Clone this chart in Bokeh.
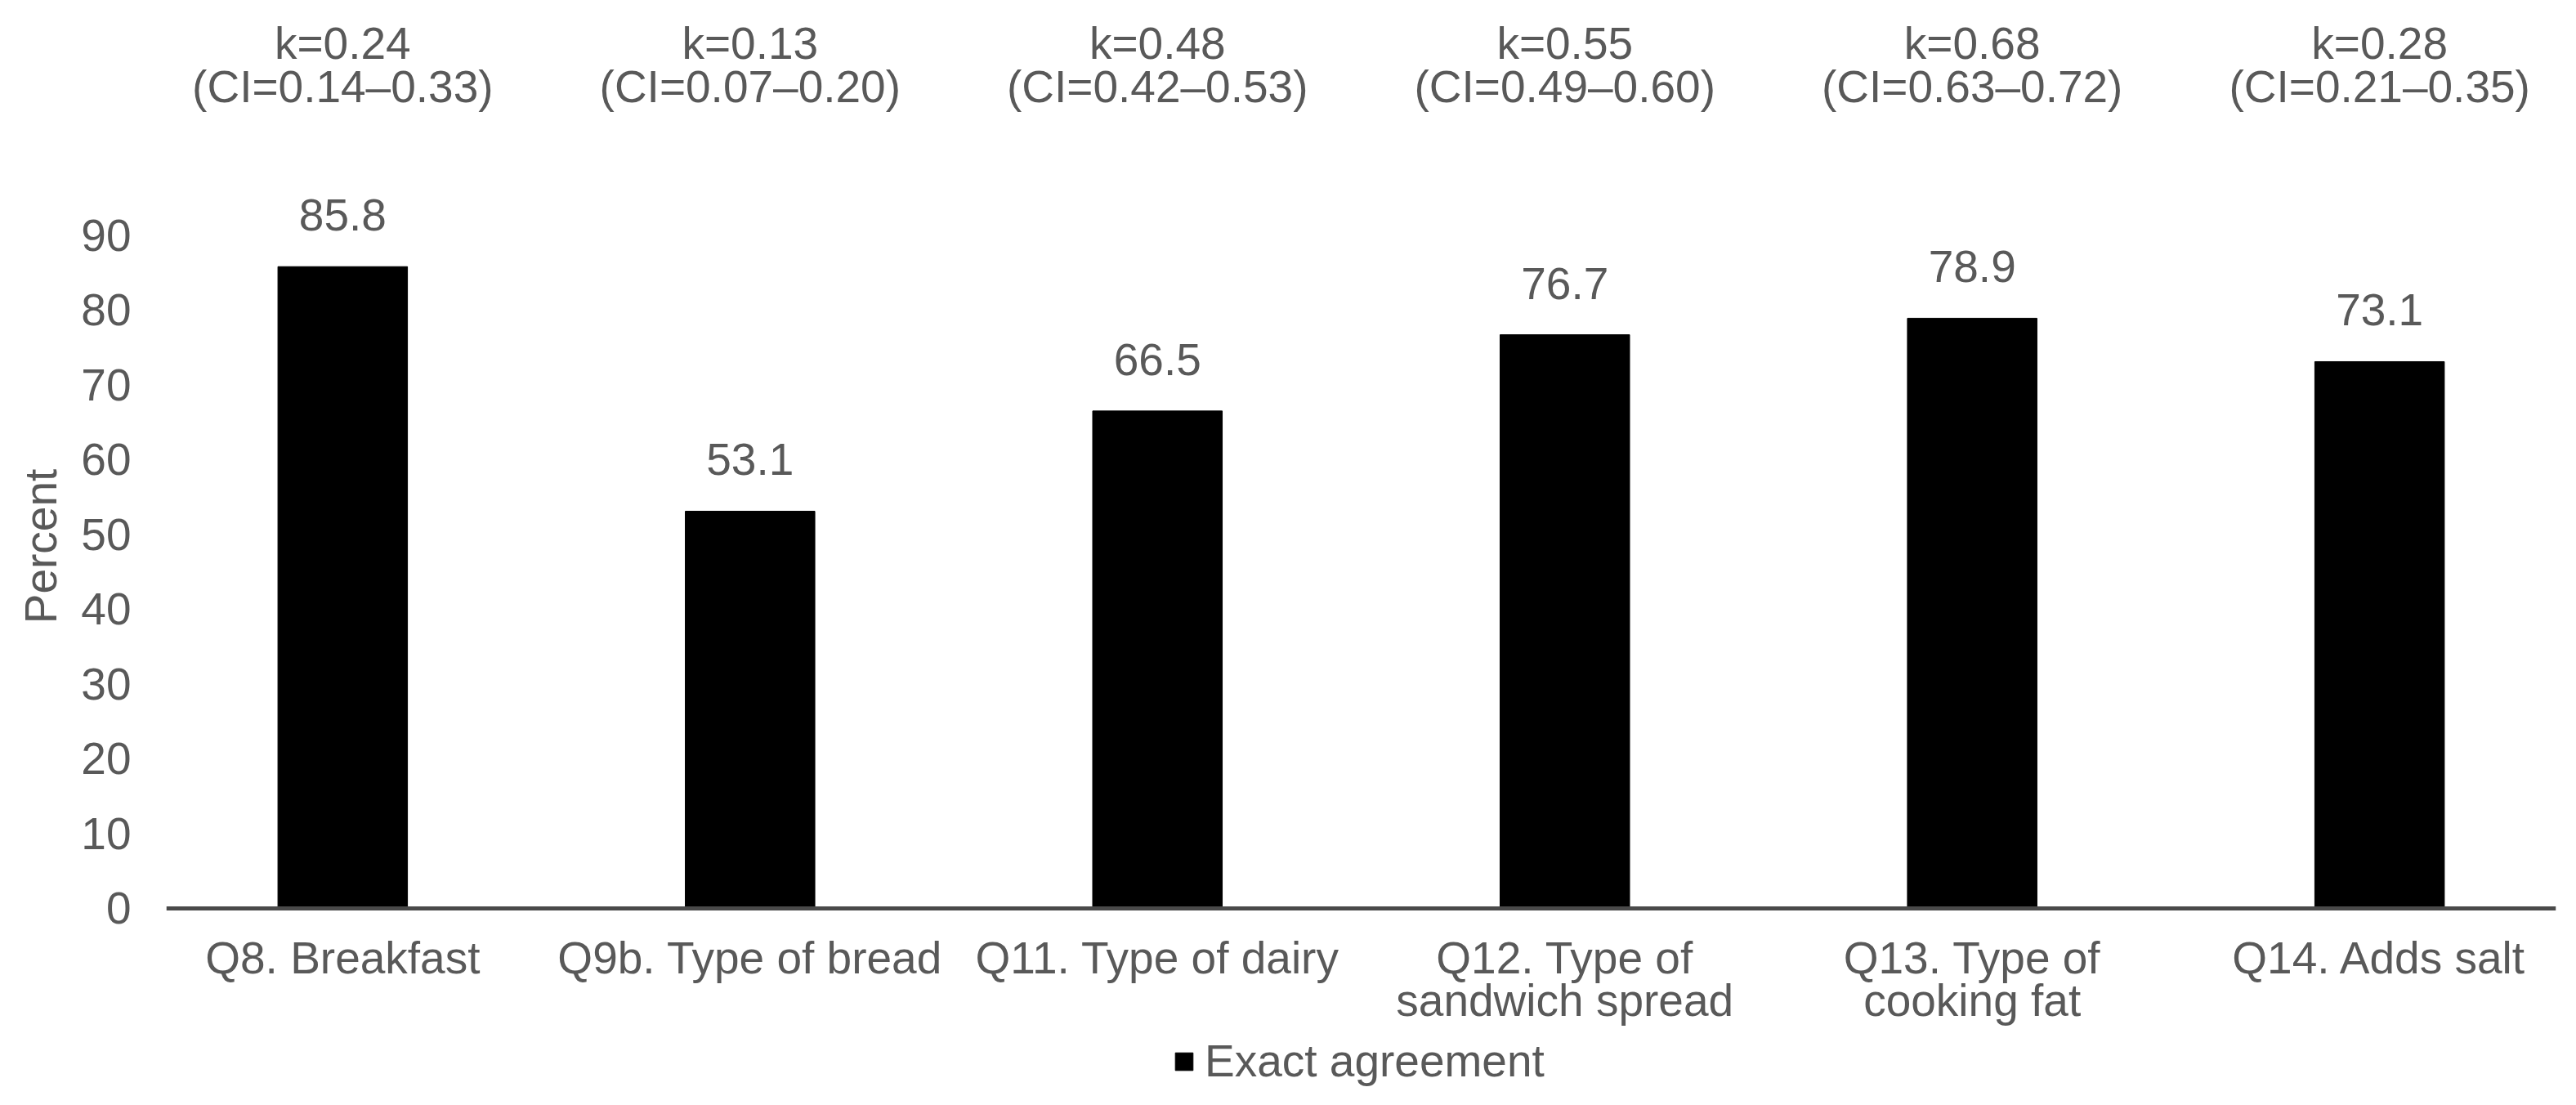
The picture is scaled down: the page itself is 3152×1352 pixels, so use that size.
from bokeh.plotting import figure
from bokeh.models import FactorRange, Range1d, FixedTicker, Legend, LegendItem, ColumnDataSource
from bokeh.core.properties import value
from bokeh.embed import file_html
from bokeh.resources import INLINE

# ---- data ----
categories = [
    "Q8. Breakfast",
    "Q9b. Type of bread",
    "Q11. Type of dairy",
    "Q12. Type of\nsandwich spread",
    "Q13. Type of\ncooking fat",
    "Q14. Adds salt",
]
exact_agreement = [85.8, 53.1, 66.5, 76.7, 78.9, 73.1]
kappa = ["0.24", "0.13", "0.48", "0.55", "0.68", "0.28"]
ci_low = ["0.14", "0.07", "0.42", "0.49", "0.63", "0.21"]
ci_high = ["0.33", "0.20", "0.53", "0.60", "0.72", "0.35"]
y_ticks = [0, 10, 20, 30, 40, 50, 60, 70, 80, 90]
series_name = "Exact agreement"
y_title = "Percent"

# ---- style / layout ----
FONT = "Liberation Sans"
TXT = "#595959"
FS = "55px"
Y_TOP = 121.4
Y_BOTTOM = -24.6   # room below zero for category labels and legend

src = ColumnDataSource(dict(
    cat=categories,
    val=exact_agreement,
    lab=[f"{v:.1f}" for v in exact_agreement],
    k1=[f"k={k}" for k in kappa],
    k2=[f"(CI={a}\u2013{b})" for a, b in zip(ci_low, ci_high)],
    top=[Y_TOP] * len(categories),
))

p = figure(
    width=3136, height=1336,
    x_range=FactorRange(*categories, range_padding=-0.067, range_padding_units="absolute"),
    y_range=Range1d(Y_BOTTOM, Y_TOP),
    output_backend="svg", toolbar_location=None,
    min_border_left=203, min_border_right=9, min_border_top=0, min_border_bottom=0,
)
p.outline_line_color = None
p.xgrid.grid_line_color = None
p.ygrid.grid_line_color = None
p.background_fill_color = "white"

bars = p.vbar(x="cat", top="val", bottom=0, width=0.318, source=src, fill_color="black", line_color="black")

# data labels
p.text(x="cat", y="val", text="lab", source=src, text_align="center", text_baseline="middle",
       y_offset=-63, text_font=value(FONT), text_font_size=FS, text_color=TXT)
# kappa labels
p.text(x="cat", y="top", text="k1", source=src, text_align="center", text_baseline="middle",
       y_offset=52, text_font=value(FONT), text_font_size=FS, text_color=TXT)
p.text(x="cat", y="top", text="k2", source=src, text_align="center", text_baseline="middle",
       y_offset=105, text_font=value(FONT), text_font_size=FS, text_color=TXT)

# axes
xa = p.xaxis[0]
xa.fixed_location = 0
xa.axis_line_color = "#4a4a4a"
xa.axis_line_width = 5
xa.major_tick_line_color = None
xa.minor_tick_line_color = None
xa.major_tick_out = 0
xa.major_tick_in = 0
xa.major_label_standoff = 30
xa.major_label_text_font = FONT
xa.major_label_text_font_size = FS
xa.major_label_text_color = TXT
xa.major_label_text_line_height = 0.84

ya = p.yaxis[0]
ya.ticker = FixedTicker(ticks=y_ticks)
ya.axis_line_color = None
ya.major_tick_line_color = None
ya.minor_tick_line_color = None
ya.major_tick_out = 0
ya.major_tick_in = 0
ya.major_label_standoff = 43
ya.major_label_text_font = FONT
ya.major_label_text_font_size = FS
ya.major_label_text_color = TXT
ya.axis_label = y_title
ya.axis_label_standoff = 15
ya.axis_label_text_font = FONT
ya.axis_label_text_font_size = FS
ya.axis_label_text_font_style = "normal"
ya.axis_label_text_color = TXT

legend = Legend(items=[LegendItem(label=series_name, renderers=[bars])], location=(1232, 6),
                orientation="horizontal", glyph_width=27, glyph_height=27, label_standoff=12,
                padding=0, margin=0, border_line_color=None, background_fill_alpha=0,
                label_text_font=FONT, label_text_font_size=FS, label_text_color=TXT)
p.add_layout(legend, "center")

open("out.html", "w").write(file_html(p, INLINE))
